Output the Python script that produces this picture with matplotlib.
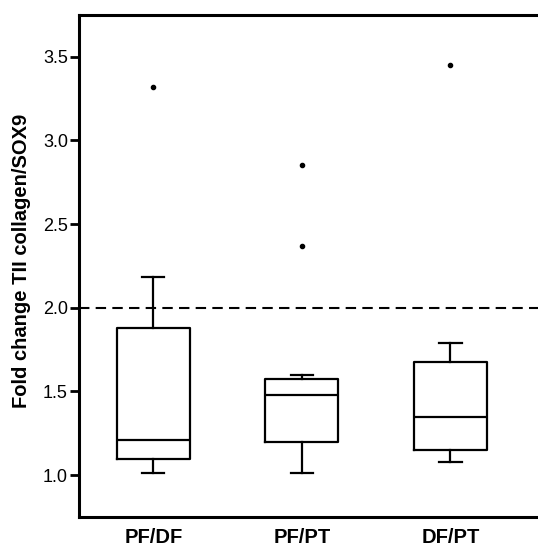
import matplotlib
matplotlib.use("Agg")
import matplotlib.pyplot as plt

plt.rcParams['font.family'] = ['Liberation Sans', 'DejaVu Sans']

groups = ['PF/DF', 'PF/PT', 'DF/PT']
whislo = [1.01, 1.014, 1.076]
q1 = [1.094, 1.196, 1.152]
med = [1.208, 1.478, 1.348]
q3 = [1.88, 1.574, 1.676]
whishi = [2.186, 1.60, 1.79]
fliers = [[3.316], [2.855, 2.37], [3.448]]
ref_level = 2.0

stats = []
for i, g in enumerate(groups):
    stats.append(dict(label=g, whislo=whislo[i], q1=q1[i], med=med[i],
                      q3=q3[i], whishi=whishi[i], fliers=fliers[i]))

fig = plt.figure(figsize=(5.38, 5.49), dpi=100)
ax = fig.add_axes([0.147, 0.0583, 0.853, 0.9147])

lw = 1.6
ax.bxp(stats, positions=[1, 2, 3], widths=0.49, capwidths=0.15,
       boxprops=dict(color='black', linewidth=lw),
       medianprops=dict(color='black', linewidth=lw),
       whiskerprops=dict(color='black', linewidth=lw),
       capprops=dict(color='black', linewidth=lw),
       flierprops=dict(marker='o', markerfacecolor='black',
                       markeredgecolor='black', markersize=3))

ax.axhline(ref_level, color='black', linewidth=1.5, linestyle=(0, (5, 3)))

ax.set_xlim(0.5, 3.59)
ax.set_ylim(0.75, 3.75)
ax.set_yticks([1.0, 1.5, 2.0, 2.5, 3.0, 3.5])
ax.set_yticklabels(['1.0', '1.5', '2.0', '2.5', '3.0', '3.5'])

for s in ['left', 'bottom', 'top']:
    ax.spines[s].set_linewidth(2.2)
ax.spines['right'].set_visible(False)

ax.tick_params(axis='y', direction='out', length=6.5, width=2, labelsize=13, pad=1.5)
ax.tick_params(axis='x', length=0, labelsize=14.5, pad=8)
for t in ax.get_xticklabels():
    t.set_fontweight('bold')

ax.set_ylabel('Fold change TII collagen/SOX9', fontsize=14.5, fontweight='bold')
ax.yaxis.set_label_coords(-0.105, 0.51)

fig.savefig('out.png', dpi=100)
